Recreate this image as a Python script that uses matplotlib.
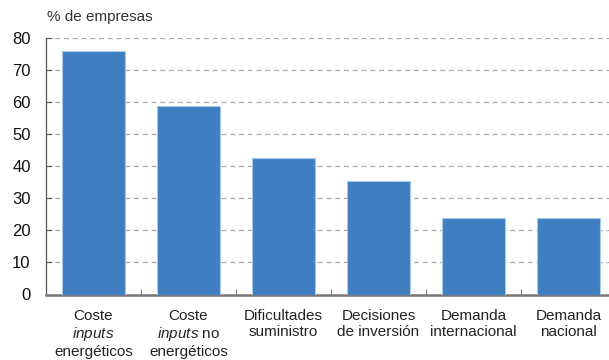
import matplotlib
matplotlib.use("Agg")
import matplotlib.pyplot as plt

plt.rcParams["font.family"] = ["Liberation Sans", "DejaVu Sans"]
plt.rcParams["mathtext.fontset"] = "custom"
plt.rcParams["mathtext.rm"] = "Liberation Sans"
plt.rcParams["mathtext.it"] = "Liberation Sans:italic"

categories = [
    "Coste\n$\\mathit{inputs}$\nenergéticos",
    "Coste\n$\\mathit{inputs}$ no\nenergéticos",
    "Dificultades\nsuministro",
    "Decisiones\nde inversión",
    "Demanda\ninternacional",
    "Demanda\nnacional",
]
values = [75.8, 58.7, 42.7, 35.5, 24.0, 24.0]
yticks = [0, 10, 20, 30, 40, 50, 60, 70, 80]

fig = plt.figure(figsize=(6.09, 3.6), dpi=100)
ax = fig.add_axes([46 / 609, 65.5 / 360, 570 / 609, 256.5 / 360])

x = list(range(len(values)))
ax.bar(x, values, width=0.66, color="#3f7fc1", edgecolor="#a9c8e6",
       linewidth=0.8, zorder=3)

ax.set_xlim(-0.5, 5.5)
ax.set_ylim(0, 80)
ax.set_yticks(yticks)
ax.set_yticklabels([str(t) for t in yticks], fontsize=12, color="#111111")
ax.yaxis.grid(True, linestyle=(0, (4, 3)), color="#aaaaaa", linewidth=0.9, zorder=0)
ax.set_axisbelow(True)

ax.set_xticks([i + 0.5 for i in range(len(values) - 1)], minor=False)
ax.set_xticklabels([])
ax.set_xticks(x, minor=True)
ax.set_xticklabels(categories, minor=True, fontsize=11, color="#222222",
                   linespacing=1.15)
ax.tick_params(axis="x", which="minor", length=0, pad=10.5)
ax.tick_params(axis="x", which="major", direction="in", length=4,
               color="#777777", width=0.8)
ax.tick_params(axis="y", direction="in", length=4, color="#555555",
               width=0.8, pad=11)

for side in ("top", "right"):
    ax.spines[side].set_visible(False)
ax.spines["left"].set_color("#555555")
ax.spines["left"].set_linewidth(0.9)
ax.spines["bottom"].set_color("#777777")
ax.spines["bottom"].set_linewidth(1.8)

fig.text(47 / 609, 1 - 17 / 360, "% de empresas", fontsize=11,
         color="#333333", ha="left", va="center")

fig.savefig("out.png", dpi=100)
